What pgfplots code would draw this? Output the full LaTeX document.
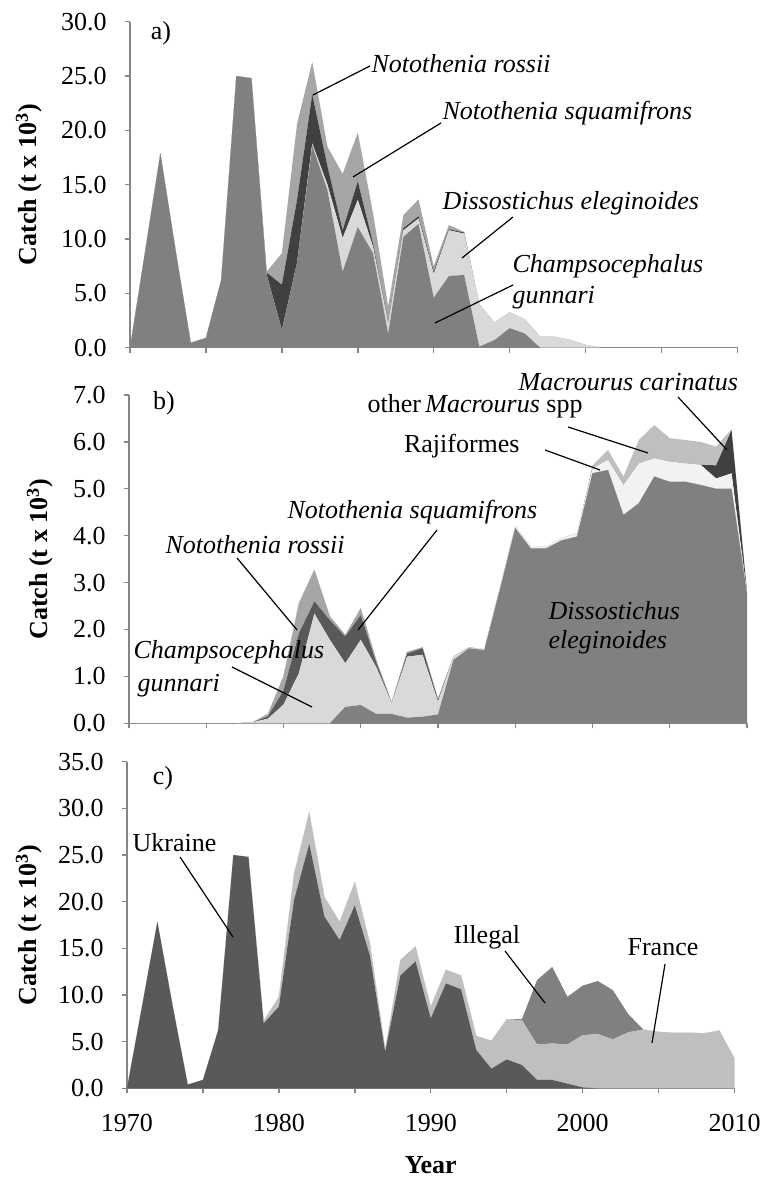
\documentclass[border=0pt]{standalone}
\usepackage{fontspec}
\setmainfont{Liberation Serif}
\usepackage{pgfplots}
\usepackage{pgfplotstable}
\pgfplotsset{compat=1.18}
\definecolor{axisgray}{HTML}{868686}
\definecolor{gMid}{HTML}{808080}
\definecolor{gLight}{HTML}{D9D9D9}
\definecolor{gDark}{HTML}{404040}
\definecolor{gDark2}{HTML}{595959}
\definecolor{gMed}{HTML}{A6A6A6}
\definecolor{gVLight}{HTML}{F2F2F2}
\definecolor{gSilver}{HTML}{BFBFBF}

\pgfplotstableread{
yr cg de nr ns
1970 0 0 0 0
1971 8.9 0 0 0
1972 17.9 0 0 0
1973 9.0 0 0 0
1974 0.45 0 0 0
1975 0.9 0 0 0
1976 6.2 0 0 0
1977 25.0 0 0 0
1978 24.8 0 0 0
1979 6.7 0 0.2 0.1
1980 1.6 0 4.2 2.9
1981 7.8 0 5.8 7.0
1982 18.6 0.2 4.5 3.0
1983 14.5 0.5 1.7 1.8
1984 7.0 3.1 0.7 5.2
1985 11.1 2.5 1.7 4.5
1986 8.7 0.6 0.3 2.8
1987 1.3 0.9 0.1 1.5
1988 10.2 0.6 0.2 1.2
1989 11.4 0.5 0.2 1.55
1990 4.6 2.2 0.2 0.5
1991 6.6 4.2 0.1 0.4
1992 6.7 3.8 0.1 0.05
1993 0.1 3.9 0 0
1994 0.7 1.6 0 0
1995 1.8 1.45 0 0
1996 1.3 1.3 0 0
1997 0 1.0 0 0
1998 0 1.0 0 0
1999 0 0.7 0 0
2000 0 0.25 0 0
2001 0 0 0 0
2002 0 0 0 0
2003 0 0 0 0
2004 0 0 0 0
2005 0 0 0 0
2006 0 0 0 0
2007 0 0 0 0
2008 0 0 0 0
2009 0 0 0 0
2010 0 0 0 0
}\tA

\pgfplotstableread{
yr de cg nsq nr raj mc om
1970 0 0 0 0 0 0 0
1971 0 0 0 0 0 0 0
1972 0 0 0 0 0 0 0
1973 0 0 0 0 0 0 0
1974 0 0 0 0 0 0 0
1975 0 0 0 0 0 0 0
1976 0 0 0 0 0 0 0
1977 0 0 0 0 0 0 0
1978 0 0.02 0 0 0 0 0
1979 0 0.1 0.05 0.05 0 0 0
1980 0 0.4 0.3 0.3 0 0 0
1981 0 1.07 0.85 0.64 0 0 0
1982 0 2.34 0.26 0.67 0 0 0
1983 0 1.78 0.42 0.08 0 0 0
1984 0.35 0.93 0.57 0.03 0 0 0
1985 0.39 1.39 0.53 0.14 0 0 0
1986 0.2 1.0 0.1 0.05 0 0 0
1987 0.2 0.23 0 0.02 0 0 0
1988 0.12 1.3 0.07 0.03 0 0 0
1989 0.14 1.32 0.14 0.02 0 0 0
1990 0.19 0.27 0.04 0.02 0 0 0
1991 1.35 0.07 0 0 0 0 0
1992 1.6 0.02 0 0 0 0 0
1993 1.56 0 0 0 0.02 0 0
1994 2.84 0 0 0 0.04 0 0
1995 4.16 0 0 0 0.04 0 0
1996 3.73 0 0 0 0.05 0 0
1997 3.73 0 0 0 0.03 0 0
1998 3.9 0 0 0 0.05 0 0
1999 3.98 0 0 0 0.07 0 0
2000 5.33 0 0 0 0.1 0 0.07
2001 5.4 0 0 0 0.22 0 0.21
2002 4.44 0 0 0 0.64 0 0.18
2003 4.69 0 0 0 0.85 0 0.5
2004 5.26 0 0 0 0.39 0 0.71
2005 5.15 0 0 0 0.43 0 0.5
2006 5.15 0 0 0 0.39 0 0.5
2007 5.08 0 0 0 0.43 0 0.49
2008 5.0 0 0 0 0.22 0.28 0.4
2009 5.0 0 0 0 0.33 0.92 0.02
2010 2.75 0 0 0 0.02 0.03 0
}\tB

\pgfplotstableread{
yr ukr fra ill
1970 0 0 0
1971 8.9 0 0
1972 17.85 0 0
1973 8.9 0 0
1974 0.4 0 0
1975 0.9 0 0
1976 6.2 0 0
1977 25.0 0 0
1978 24.8 0 0
1979 6.96 0.25 0
1980 8.75 1.05 0
1981 20.2 2.8 0
1982 26.2 3.4 0
1983 18.4 2.1 0
1984 15.9 1.95 0
1985 19.6 2.5 0
1986 14.2 1.3 0
1987 3.9 0.3 0
1988 12.1 1.65 0
1989 13.6 1.6 0
1990 7.5 1.25 0
1991 11.25 1.45 0
1992 10.6 1.5 0
1993 4.1 1.5 0
1994 2.1 3.0 0
1995 3.1 4.3 0
1996 2.5 4.8 0.1
1997 0.9 3.8 6.9
1998 0.9 3.9 8.2
1999 0.5 4.2 5.1
2000 0.1 5.6 5.3
2001 0 5.8 5.7
2002 0 5.25 5.25
2003 0 6.0 1.95
2004 0 6.3 0
2005 0 6.05 0
2006 0 5.96 0
2007 0 5.96 0
2008 0 5.9 0
2009 0 6.2 0
2010 0 3.2 0
}\tC

\pgfplotsset{
  panel/.style={
    scale only axis, anchor=south west,
    xmin=1970, xmax=2010, ymin=0,
    axis x line*=bottom, axis y line*=left,
    axis line style={draw=axisgray, line width=0.7pt},
    every tick/.style={draw=axisgray, line width=0.7pt},
    tick align=outside, major tick length=2.5pt,
    xtick={1970,1975,...,2010},
    stack plots=y,
    yticklabel={\pgfmathprintnumber[fixed,fixed zerofill,precision=1,assume math mode=true]{\tick}},
    yticklabel style={anchor=east, inner sep=0pt, xshift=-9pt},
    xticklabel style={anchor=north, inner sep=0pt, yshift=-10.5pt},
    ylabel={\textbf{Catch (t x 10\textsuperscript{3})}},
    ylabel style={anchor=center},
  }
}

\begin{document}
\fontsize{13}{15.6}\selectfont
\begin{tikzpicture}
\path[use as bounding box] (0,0) rectangle (385.5pt,594pt);

% ---- panel a
\begin{axis}[panel, at={(65pt,420.15pt)}, width=303.75pt, height=163pt,
  ymax=30, ytick={0,5,...,30}, xticklabels={},
  ylabel style={at={(axis description cs:-0.1663,0.5)}}]
\addplot[fill=gMid, draw=none] table[x=yr,y=cg]{\tA} \closedcycle;
\addplot[fill=gLight, draw=none] table[x=yr,y=de]{\tA} \closedcycle;
\addplot[fill=gDark, draw=none] table[x=yr,y=nr]{\tA} \closedcycle;
\addplot[fill=gMed, draw=none] table[x=yr,y=ns]{\tA} \closedcycle;
\end{axis}

% ---- panel b
\begin{axis}[panel, at={(64.5pt,232.35pt)}, width=309pt, height=164.15pt,
  ymax=7, ytick={0,1,...,7}, xticklabels={},
  ylabel style={at={(axis description cs:-0.144,0.5)}}]
\addplot[fill=gMid, draw=none] table[x=yr,y=de]{\tB} \closedcycle;
\addplot[fill=gLight, draw=none] table[x=yr,y=cg]{\tB} \closedcycle;
\addplot[fill=gDark2, draw=none] table[x=yr,y=nsq]{\tB} \closedcycle;
\addplot[fill=gMed, draw=none] table[x=yr,y=nr]{\tB} \closedcycle;
\addplot[fill=gVLight, draw=none] table[x=yr,y=raj]{\tB} \closedcycle;
\addplot[fill=gDark, draw=none] table[x=yr,y=mc]{\tB} \closedcycle;
\addplot[fill=gSilver, draw=none] table[x=yr,y=om]{\tB} \closedcycle;
\end{axis}

% ---- panel c
\begin{axis}[panel, at={(63.5pt,49.85pt)}, width=303.75pt, height=163.3pt,
  ymax=35, ytick={0,5,...,35},
  xticklabels={1970,,1980,,1990,,2000,,2010},
  xlabel={\textbf{Year}},
  xlabel style={at={(axis description cs:0.5,-0.235)}, anchor=center},
  ylabel style={at={(axis description cs:-0.1613,0.5)}}]
\addplot[fill=gDark2, draw=none] table[x=yr,y=ukr]{\tC} \closedcycle;
\addplot[fill=gSilver, draw=none] table[x=yr,y=fra]{\tC} \closedcycle;
\addplot[fill=gMid, draw=none] table[x=yr,y=ill]{\tC} \closedcycle;
\end{axis}

% ---- annotations
\begin{scope}[every node/.style={inner sep=0pt}, line width=0.6pt]
% panel a
\node at (80.5pt,577.25pt) {a)};
\node[anchor=west] at (185.5pt,562pt) {\textit{Notothenia rossii}};
\draw (185pt,561pt) -- (156.5pt,546.5pt);
\node[anchor=west] at (221pt,537.5pt) {\textit{Notothenia squamifrons}};
\draw (220.5pt,532.5pt) -- (176.5pt,505.5pt);
\node[anchor=west] at (221pt,492.5pt) {\textit{Dissostichus eleginoides}};
\draw (256.5pt,485.5pt) -- (231pt,465pt);
\node[anchor=west] at (256pt,461pt) {\textit{Champsocephalus}};
\node[anchor=west] at (256pt,445pt) {\textit{gunnari}};
\draw (256.5pt,451.5pt) -- (217.5pt,432.5pt);
% panel b
\node at (82pt,392.5pt) {b)};
\node[anchor=west] at (183.5pt,391pt) {other\,\textit{Macrourus} spp};
\draw (284pt,380.5pt) -- (324pt,367.5pt);
\node[anchor=west] at (259pt,403pt) {\textit{Macrourus carinatus}};
\draw (339pt,395.5pt) -- (363.5pt,369pt);
\node[anchor=west] at (201.7pt,371pt) {Rajiformes};
\draw (272.5pt,369pt) -- (300pt,359pt);
\node[anchor=west] at (143.5pt,338pt) {\textit{Notothenia squamifrons}};
\draw (218.5pt,329pt) -- (179pt,279pt);
\node[anchor=west] at (82.5pt,321.5pt) {\textit{Notothenia rossii}};
\draw (118.5pt,315pt) -- (148.5pt,279pt);
\node[anchor=west] at (66.5pt,268pt) {\textit{Champsocephalus}};
\node[anchor=west] at (68.5pt,251pt) {\textit{gunnari}};
\draw (116pt,260.5pt) -- (156pt,240.5pt);
\node[anchor=west] at (274pt,288.5pt) {\textit{Dissostichus}};
\node[anchor=west] at (274pt,273pt) {\textit{eleginoides}};
% panel c
\node at (81.5pt,205pt) {c)};
\node[anchor=west] at (66pt,172.5pt) {Ukraine};
\draw (90pt,165.5pt) -- (116.5pt,125.5pt);
\node[anchor=west] at (226.5pt,125.5pt) {Illegal};
\draw (252.5pt,118.5pt) -- (272.5pt,92.5pt);
\node[anchor=west] at (313.5pt,120.5pt) {France};
\draw (332.5pt,112pt) -- (326pt,72.5pt);
\end{scope}
\end{tikzpicture}
\end{document}
